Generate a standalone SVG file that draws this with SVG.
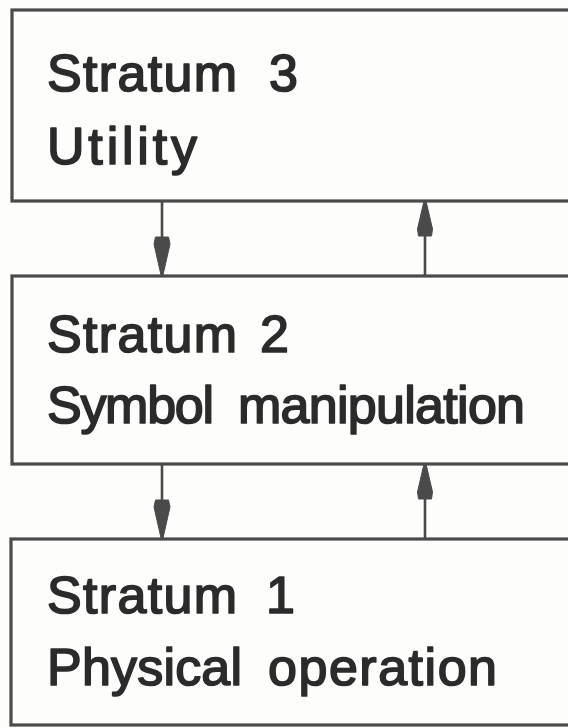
<svg xmlns="http://www.w3.org/2000/svg" width="568" height="728" viewBox="0 0 568 728">
  <style>
    .box { fill: #fdfdfb; stroke: #4a4a4a; stroke-width: 3.2; }
    .label { font-family: "Liberation Sans", "DejaVu Sans", Arial, sans-serif; font-size: 52px; fill: #2b2b2b; stroke: #2b2b2b; stroke-width: 1.7; stroke-linejoin: round; }
    .link { stroke: #4a4a4a; stroke-width: 2.6; fill: none; }
    .head { fill: #4a4a4a; stroke: #4a4a4a; stroke-width: 1; stroke-linejoin: round; }
  </style>
  <rect width="568" height="728" fill="#fdfdfb"/>

  <!-- connectors between strata -->
  <g id="connectors">
    <!-- stratum 3 -> stratum 2 (down) -->
    <line class="link" x1="162" y1="201" x2="162" y2="240"/>
    <polygon class="head" points="155.5,237 168.5,237 170,244 163,275 161,275 154,244"/>
    <!-- stratum 2 -> stratum 3 (up) -->
    <line class="link" x1="425" y1="234" x2="425" y2="276"/>
    <polygon class="head" points="424,201 426,201 432.5,229 431.5,236 418.5,236 417.5,229"/>
    <!-- stratum 2 -> stratum 1 (down) -->
    <line class="link" x1="162" y1="464" x2="162" y2="503"/>
    <polygon class="head" points="155.5,500 168.5,500 170,507 163,538 161,538 154,507"/>
    <!-- stratum 1 -> stratum 2 (up) -->
    <line class="link" x1="425" y1="497" x2="425" y2="539"/>
    <polygon class="head" points="424,464 426,464 432.5,492 431.5,499 418.5,499 417.5,492"/>
  </g>

  <g id="stratum3">
    <rect class="box" x="12" y="10" width="600" height="191"/>
    <text class="label" x="47" y="91" textLength="190" lengthAdjust="spacing">Stratum</text>
    <text class="label" x="269" y="91">3</text>
    <text class="label" x="47" y="164" textLength="150" lengthAdjust="spacing">Utility</text>
  </g>

  <g id="stratum2">
    <rect class="box" x="12" y="276" width="600" height="188"/>
    <text class="label" x="47" y="352" textLength="190" lengthAdjust="spacing">Stratum</text>
    <text class="label" x="260" y="352">2</text>
    <text class="label" x="47" y="423" textLength="167" lengthAdjust="spacing">Symbol</text>
    <text class="label" x="238" y="423" textLength="287" lengthAdjust="spacing">manipulation</text>
  </g>

  <g id="stratum1">
    <rect class="box" x="11" y="539" width="600" height="186"/>
    <text class="label" x="47" y="613" textLength="190" lengthAdjust="spacing">Stratum</text>
    <text class="label" x="266" y="613">1</text>
    <text class="label" x="47" y="685" textLength="195" lengthAdjust="spacing">Physical</text>
    <text class="label" x="268" y="685" textLength="229" lengthAdjust="spacing">operation</text>
  </g>
</svg>
